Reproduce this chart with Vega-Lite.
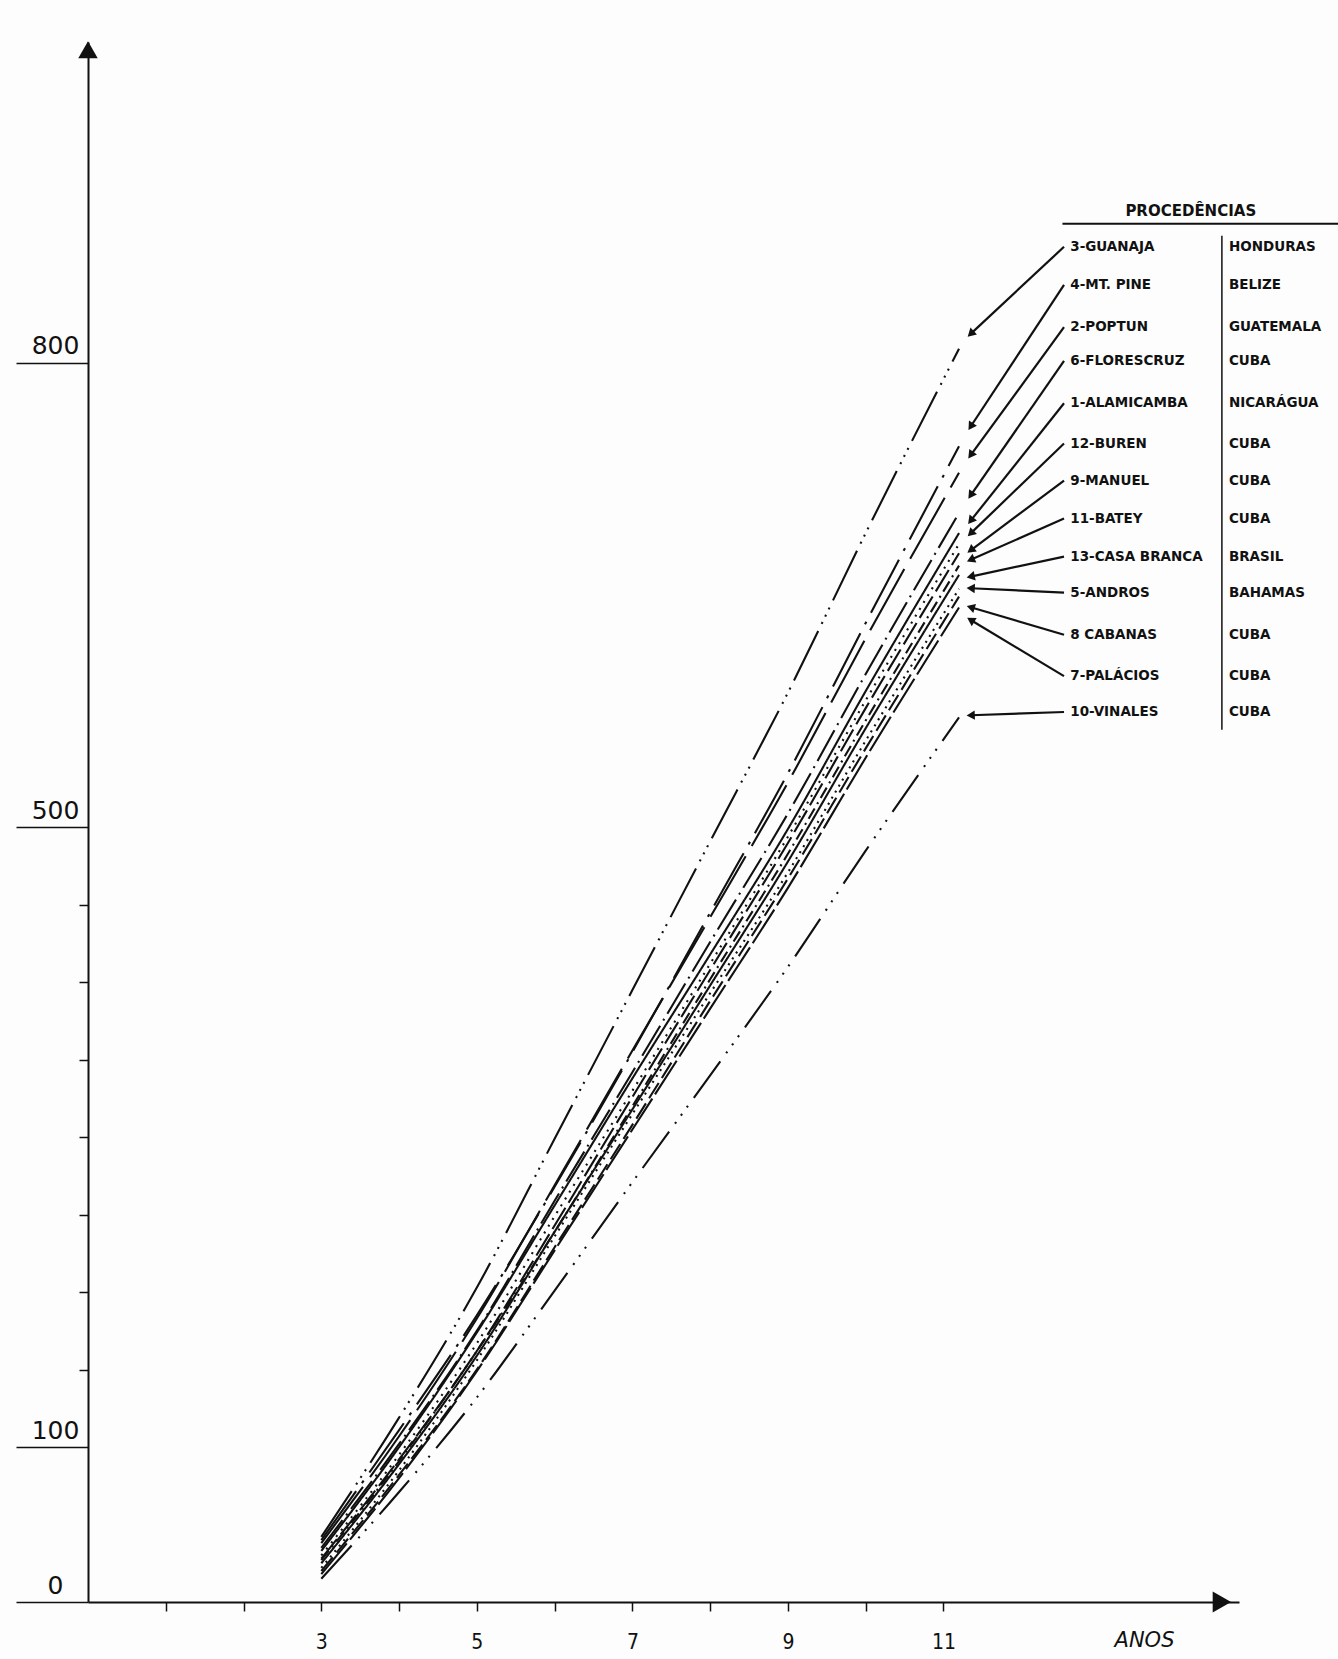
{
  "$schema": "https://vega.github.io/schema/vega-lite/v6.json",
  "width": 1151,
  "height": 1560,
  "autosize": {"type": "none"},
  "padding": {"left": 88, "top": 42, "right": 99, "bottom": 57},
  "background": "#fdfdfd",
  "config": {"view": {"stroke": null}, "font": "DejaVu Sans"},
  "datasets": {
    "series": [
      {"procedencia": "Guanaja", "ano": 3, "altura": 42}, {"procedencia": "Guanaja", "ano": 4, "altura": 119}, {"procedencia": "Guanaja", "ano": 5, "altura": 203}, {"procedencia": "Guanaja", "ano": 6, "altura": 299}, {"procedencia": "Guanaja", "ano": 7, "altura": 395}, {"procedencia": "Guanaja", "ano": 8, "altura": 491}, {"procedencia": "Guanaja", "ano": 9, "altura": 587}, {"procedencia": "Guanaja", "ano": 10, "altura": 690}, {"procedencia": "Guanaja", "ano": 11.2, "altura": 809},
      {"procedencia": "Mt. Pine", "ano": 3, "altura": 40}, {"procedencia": "Mt. Pine", "ano": 4, "altura": 111}, {"procedencia": "Mt. Pine", "ano": 5, "altura": 185}, {"procedencia": "Mt. Pine", "ano": 6, "altura": 268}, {"procedencia": "Mt. Pine", "ano": 7, "altura": 355}, {"procedencia": "Mt. Pine", "ano": 8, "altura": 445}, {"procedencia": "Mt. Pine", "ano": 9, "altura": 535}, {"procedencia": "Mt. Pine", "ano": 10, "altura": 632}, {"procedencia": "Mt. Pine", "ano": 11.2, "altura": 746},
      {"procedencia": "Poptun", "ano": 3, "altura": 38}, {"procedencia": "Poptun", "ano": 4, "altura": 107}, {"procedencia": "Poptun", "ano": 5, "altura": 183}, {"procedencia": "Poptun", "ano": 6, "altura": 269}, {"procedencia": "Poptun", "ano": 7, "altura": 356}, {"procedencia": "Poptun", "ano": 8, "altura": 442}, {"procedencia": "Poptun", "ano": 9, "altura": 529}, {"procedencia": "Poptun", "ano": 10, "altura": 622}, {"procedencia": "Poptun", "ano": 11.2, "altura": 729},
      {"procedencia": "Florescruz", "ano": 3, "altura": 35}, {"procedencia": "Florescruz", "ano": 4, "altura": 102}, {"procedencia": "Florescruz", "ano": 5, "altura": 175}, {"procedencia": "Florescruz", "ano": 6, "altura": 259}, {"procedencia": "Florescruz", "ano": 7, "altura": 342}, {"procedencia": "Florescruz", "ano": 8, "altura": 426}, {"procedencia": "Florescruz", "ano": 9, "altura": 509}, {"procedencia": "Florescruz", "ano": 10, "altura": 599}, {"procedencia": "Florescruz", "ano": 11.2, "altura": 703},
      {"procedencia": "Alamicamba", "ano": 3, "altura": 33}, {"procedencia": "Alamicamba", "ano": 4, "altura": 100}, {"procedencia": "Alamicamba", "ano": 5, "altura": 174}, {"procedencia": "Alamicamba", "ano": 6, "altura": 256}, {"procedencia": "Alamicamba", "ano": 7, "altura": 338}, {"procedencia": "Alamicamba", "ano": 8, "altura": 418}, {"procedencia": "Alamicamba", "ano": 9, "altura": 499}, {"procedencia": "Alamicamba", "ano": 10, "altura": 588}, {"procedencia": "Alamicamba", "ano": 11.2, "altura": 690},
      {"procedencia": "Buren", "ano": 3, "altura": 30}, {"procedencia": "Buren", "ano": 4, "altura": 95}, {"procedencia": "Buren", "ano": 5, "altura": 167}, {"procedencia": "Buren", "ano": 6, "altura": 249}, {"procedencia": "Buren", "ano": 7, "altura": 330}, {"procedencia": "Buren", "ano": 8, "altura": 412}, {"procedencia": "Buren", "ano": 9, "altura": 494}, {"procedencia": "Buren", "ano": 10, "altura": 582}, {"procedencia": "Buren", "ano": 11.2, "altura": 683},
      {"procedencia": "Manuel", "ano": 3, "altura": 28}, {"procedencia": "Manuel", "ano": 4, "altura": 92}, {"procedencia": "Manuel", "ano": 5, "altura": 162}, {"procedencia": "Manuel", "ano": 6, "altura": 243}, {"procedencia": "Manuel", "ano": 7, "altura": 326}, {"procedencia": "Manuel", "ano": 8, "altura": 408}, {"procedencia": "Manuel", "ano": 9, "altura": 490}, {"procedencia": "Manuel", "ano": 10, "altura": 577}, {"procedencia": "Manuel", "ano": 11.2, "altura": 677},
      {"procedencia": "Batey", "ano": 3, "altura": 27}, {"procedencia": "Batey", "ano": 4, "altura": 91}, {"procedencia": "Batey", "ano": 5, "altura": 162}, {"procedencia": "Batey", "ano": 6, "altura": 239}, {"procedencia": "Batey", "ano": 7, "altura": 320}, {"procedencia": "Batey", "ano": 8, "altura": 402}, {"procedencia": "Batey", "ano": 9, "altura": 483}, {"procedencia": "Batey", "ano": 10, "altura": 569}, {"procedencia": "Batey", "ano": 11.2, "altura": 669},
      {"procedencia": "Casa Branca", "ano": 3, "altura": 25}, {"procedencia": "Casa Branca", "ano": 4, "altura": 89}, {"procedencia": "Casa Branca", "ano": 5, "altura": 159}, {"procedencia": "Casa Branca", "ano": 6, "altura": 239}, {"procedencia": "Casa Branca", "ano": 7, "altura": 318}, {"procedencia": "Casa Branca", "ano": 8, "altura": 398}, {"procedencia": "Casa Branca", "ano": 9, "altura": 478}, {"procedencia": "Casa Branca", "ano": 10, "altura": 564}, {"procedencia": "Casa Branca", "ano": 11.2, "altura": 663},
      {"procedencia": "Andros", "ano": 3, "altura": 22}, {"procedencia": "Andros", "ano": 4, "altura": 85}, {"procedencia": "Andros", "ano": 5, "altura": 156}, {"procedencia": "Andros", "ano": 6, "altura": 236}, {"procedencia": "Andros", "ano": 7, "altura": 315}, {"procedencia": "Andros", "ano": 8, "altura": 393}, {"procedencia": "Andros", "ano": 9, "altura": 471}, {"procedencia": "Andros", "ano": 10, "altura": 556}, {"procedencia": "Andros", "ano": 11.2, "altura": 654},
      {"procedencia": "Cabanas", "ano": 3, "altura": 20}, {"procedencia": "Cabanas", "ano": 4, "altura": 82}, {"procedencia": "Cabanas", "ano": 5, "altura": 150}, {"procedencia": "Cabanas", "ano": 6, "altura": 229}, {"procedencia": "Cabanas", "ano": 7, "altura": 308}, {"procedencia": "Cabanas", "ano": 8, "altura": 388}, {"procedencia": "Cabanas", "ano": 9, "altura": 467}, {"procedencia": "Cabanas", "ano": 10, "altura": 551}, {"procedencia": "Cabanas", "ano": 11.2, "altura": 649},
      {"procedencia": "Palácios", "ano": 3, "altura": 18}, {"procedencia": "Palácios", "ano": 4, "altura": 80}, {"procedencia": "Palácios", "ano": 5, "altura": 149}, {"procedencia": "Palácios", "ano": 6, "altura": 227}, {"procedencia": "Palácios", "ano": 7, "altura": 305}, {"procedencia": "Palácios", "ano": 8, "altura": 383}, {"procedencia": "Palácios", "ano": 9, "altura": 461}, {"procedencia": "Palácios", "ano": 10, "altura": 545}, {"procedencia": "Palácios", "ano": 11.2, "altura": 642},
      {"procedencia": "Vinales", "ano": 3, "altura": 15}, {"procedencia": "Vinales", "ano": 4, "altura": 71}, {"procedencia": "Vinales", "ano": 5, "altura": 132}, {"procedencia": "Vinales", "ano": 6, "altura": 201}, {"procedencia": "Vinales", "ano": 7, "altura": 271}, {"procedencia": "Vinales", "ano": 8, "altura": 340}, {"procedencia": "Vinales", "ano": 9, "altura": 410}, {"procedencia": "Vinales", "ano": 10, "altura": 485}, {"procedencia": "Vinales", "ano": 11.2, "altura": 571}
    ],
    "tabela": [
      {"nome": "3-GUANAJA", "pais": "HONDURAS", "ly": 874.8, "seta": 818.6},
      {"nome": "4-MT. PINE", "pais": "BELIZE", "ly": 850.2, "seta": 758.8},
      {"nome": "2-POPTUN", "pais": "GUATEMALA", "ly": 822.9, "seta": 740.3},
      {"nome": "6-FLORESCRUZ", "pais": "CUBA", "ly": 801.1, "seta": 714.4},
      {"nome": "1-ALAMICAMBA", "pais": "NICARÁGUA", "ly": 773.8, "seta": 698},
      {"nome": "12-BUREN", "pais": "CUBA", "ly": 747.8, "seta": 689.8},
      {"nome": "9-MANUEL", "pais": "CUBA", "ly": 723.9, "seta": 678.9},
      {"nome": "11-BATEY", "pais": "CUBA", "ly": 699.4, "seta": 672.8},
      {"nome": "13-CASA BRANCA", "pais": "BRASIL", "ly": 674.8, "seta": 661.9},
      {"nome": "5-ANDROS", "pais": "BAHAMAS", "ly": 651.6, "seta": 654.4},
      {"nome": "8 CABANAS", "pais": "CUBA", "ly": 624.4, "seta": 642.1},
      {"nome": "7-PALÁCIOS", "pais": "CUBA", "ly": 597.7, "seta": 633.9},
      {"nome": "10-VINALES", "pais": "CUBA", "ly": 574.5, "seta": 572.4}
    ]
  },
  "layer": [
    {
      "data": {"name": "series"},
      "mark": {"type": "line", "interpolate": "monotone", "color": "#111", "strokeWidth": 2.1, "strokeCap": "butt"},
      "encoding": {
        "x": {
          "field": "ano", "type": "quantitative",
          "scale": {"domain": [0, 14.8], "nice": false, "zero": false},
          "axis": {
            "values": [1, 2, 3, 4, 5, 6, 7, 8, 9, 10, 11],
            "format": "d",
            "labelExpr": "(datum.value % 2 == 1 && datum.value >= 3) ? datum.label : ''",
            "grid": false, "tickSize": 9, "tickWidth": 1.5, "tickColor": "#111",
            "domainColor": "#111", "domainWidth": 2,
            "labelPadding": 20, "labelFont": "DejaVu Sans Condensed", "labelFontSize": 21, "labelColor": "#111",
            "labelOverlap": false, "labelFlush": false, "labelBound": false,
            "title": "ANOS", "titleX": 1056, "titleY": 38, "titleAlign": "center", "titleAnchor": null,
            "titleBaseline": "middle", "titleFont": "DejaVu Sans", "titleFontSize": 21, "titleFontStyle": "italic",
            "titleFontWeight": "normal", "titleColor": "#111"
          }
        },
        "y": {
          "field": "altura", "type": "quantitative",
          "scale": {"domain": [0, 1007], "nice": false},
          "axis": {
            "values": [0, 100, 150, 200, 250, 300, 350, 400, 450, 500, 800],
            "format": "d",
            "labelExpr": "indexof([0, 100, 500, 800], datum.value) >= 0 ? datum.label : ''",
            "tickSize": {"condition": {"test": "indexof([0, 100, 500, 800], datum.value) >= 0", "value": 72}, "value": 9},
            "tickWidth": 1.5, "tickColor": "#111", "grid": false, "title": null,
            "domainColor": "#111", "domainWidth": 2,
            "labelPadding": -39, "labelAlign": "center", "labelBaseline": "bottom", "labelOffset": -4,
            "labelFont": "DejaVu Sans", "labelFontSize": 25, "labelFontWeight": "normal", "labelColor": "#111",
            "labelOverlap": false, "labelFlush": false, "labelBound": false
          }
        },
        "strokeDash": {
          "field": "procedencia", "type": "nominal", "legend": null,
          "scale": {
            "domain": ["Guanaja", "Mt. Pine", "Poptun", "Florescruz", "Alamicamba", "Buren", "Manuel", "Batey", "Casa Branca", "Andros", "Cabanas", "Palácios", "Vinales"],
            "range": [[55, 8, 2, 6, 2, 6, 2, 8], [60, 10, 3, 10], [70, 12], [35, 6, 2, 6], [1, 0], [2, 6], [25, 6], [12, 5, 2, 5], [1, 0], [2, 5], [18, 6], [40, 5], [45, 10, 2, 8, 2, 8, 2, 10]]
          }
        }
      }
    },
    {
      "data": {"name": "tabela"},
      "mark": {"type": "rule", "color": "#111", "strokeWidth": 2.2},
      "encoding": {
        "x": {"datum": 12.55, "type": "quantitative"},
        "x2": {"datum": 11.35},
        "y": {"field": "ly", "type": "quantitative"},
        "y2": {"field": "seta"}
      }
    },
    {
      "data": {"name": "tabela"},
      "transform": [{"calculate": "atan2(-93, -(datum.ly - datum.seta) * 1.5496) * 180 / PI", "as": "angulo"}],
      "mark": {"type": "point", "shape": "triangle-up", "filled": true, "color": "#111", "size": 90, "opacity": 1},
      "encoding": {
        "x": {"datum": 11.35, "type": "quantitative"},
        "y": {"field": "seta", "type": "quantitative"},
        "angle": {"field": "angulo", "type": "quantitative", "scale": null}
      }
    },
    {
      "data": {"name": "tabela"},
      "mark": {"type": "text", "align": "left", "baseline": "middle", "font": "DejaVu Sans", "fontWeight": "bold", "fontSize": 13.5, "color": "#111"},
      "encoding": {
        "x": {"datum": 12.63, "type": "quantitative"},
        "y": {"field": "ly", "type": "quantitative"},
        "text": {"field": "nome"}
      }
    },
    {
      "data": {"name": "tabela"},
      "mark": {"type": "text", "align": "left", "baseline": "middle", "font": "DejaVu Sans", "fontWeight": "bold", "fontSize": 13.5, "color": "#111"},
      "encoding": {
        "x": {"datum": 14.67, "type": "quantitative"},
        "y": {"field": "ly", "type": "quantitative"},
        "text": {"field": "pais"}
      }
    },
    {
      "data": {"values": [{"titulo": "PROCEDÊNCIAS"}]},
      "mark": {"type": "text", "align": "center", "baseline": "middle", "font": "DejaVu Sans", "fontWeight": "bold", "fontSize": 15, "color": "#111"},
      "encoding": {
        "x": {"datum": 14.18, "type": "quantitative"},
        "y": {"datum": 898, "type": "quantitative"},
        "text": {"field": "titulo"}
      }
    },
    {
      "data": {"values": [{}]},
      "mark": {"type": "rule", "color": "#111", "strokeWidth": 2},
      "encoding": {
        "x": {"datum": 12.53, "type": "quantitative"},
        "x2": {"datum": 16.1},
        "y": {"datum": 889.6, "type": "quantitative"}
      }
    },
    {
      "data": {"values": [{}]},
      "mark": {"type": "rule", "color": "#111", "strokeWidth": 1.5},
      "encoding": {
        "x": {"datum": 14.58, "type": "quantitative"},
        "y": {"datum": 882, "type": "quantitative"},
        "y2": {"datum": 563}
      }
    },
    {
      "data": {"values": [{}]},
      "mark": {"type": "point", "shape": "triangle-up", "filled": true, "color": "#111", "size": 380, "opacity": 1},
      "encoding": {
        "x": {"datum": 0, "type": "quantitative"},
        "y": {"datum": 1002, "type": "quantitative"}
      }
    },
    {
      "data": {"values": [{}]},
      "mark": {"type": "point", "shape": "triangle-right", "filled": true, "color": "#111", "size": 450, "opacity": 1},
      "encoding": {
        "x": {"datum": 14.58, "type": "quantitative"},
        "y": {"datum": 0, "type": "quantitative"}
      }
    }
  ]
}
